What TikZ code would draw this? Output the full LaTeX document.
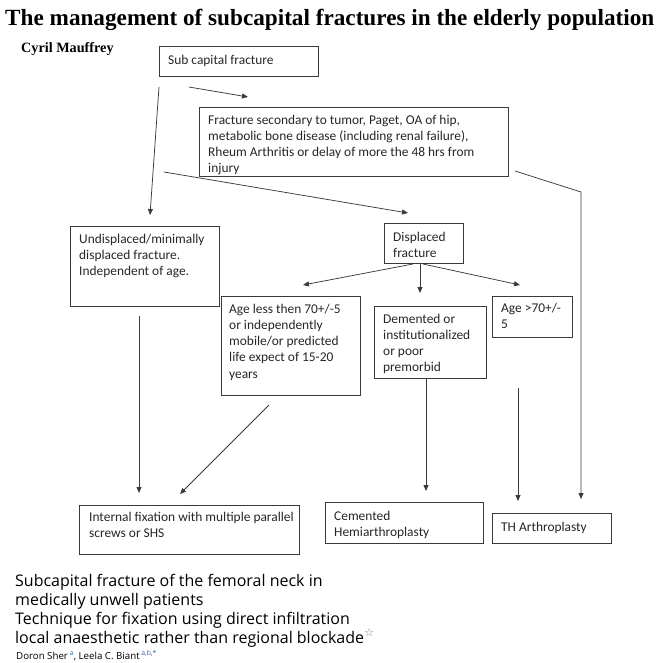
\documentclass[tikz,border=0pt]{standalone}
\usepackage{fontspec}
\setmainfont{Liberation Serif}
\newfontfamily\boxfont{Carlito}
\newfontfamily\botfont{Open Sans}
\newfontfamily\symfont{DejaVu Sans}
\usetikzlibrary{arrows.meta}
\definecolor{ln}{HTML}{3A3A3A}
\definecolor{supblue}{HTML}{2B5FA6}
\begin{document}
\begin{tikzpicture}[x=1pt,y=-1pt,
  boxst/.style={draw=ln,line width=0.8pt,anchor=north west,inner sep=0pt},
  txt/.style={anchor=north west,inner sep=0pt,align=left,text=black!85,font=\boxfont\fontsize{13.4}{16.3}\selectfont},
  conn/.style={draw=ln,line width=0.75pt,-{Triangle[length=6pt,width=5pt]}}
]
\useasboundingbox (0,0) rectangle (662,663);
% boxes: \bx{name}{x1}{y1}{x2}{y2}{textx}{first line centre}{text}
\newcommand{\bx}[8]{%
  \node[boxst,minimum width=#4-#2,minimum height=#5-#3] (#1) at (#2,#3) {};
  \node[txt] (#1t) at (#6,#7-7.6) {\strut #8};
}
\bx{b1}{159}{46}{318}{76}{168}{60}{Sub capital fracture}
\bx{b2}{199}{107}{508}{176}{208}{120}{Fracture secondary to tumor, Paget, OA of hip,\\metabolic bone disease (including renal failure),\\Rheum Arthritis or delay of more the 48 hrs from\\injury}
\bx{b3}{70}{226}{219}{306}{79}{239}{Undisplaced/minimally\\displaced fracture.\\Independent of age.}
\bx{b4}{384}{223}{463}{263}{393}{237}{Displaced\\fracture}
\bx{b5}{221}{296}{360}{395}{229}{309}{Age less then 70+/-5\\or independently\\mobile/or predicted\\life expect of 15-20\\years}
\bx{b6}{374}{306}{486}{378}{383}{319}{Demented or\\institutionalized\\or poor\\premorbid}
\bx{b7}{492}{296}{572}{337}{501}{308}{Age >70+/-\\5}
\bx{b8}{79}{505}{299}{554}{89}{517}{Internal fixation with multiple parallel\\screws or SHS}
\bx{b9}{325}{502}{483}{543}{334}{516}{Cemented\\Hemiarthroplasty}
\bx{b10}{492}{513}{611}{543}{501}{527}{TH Arthroplasty}
% titles
\node[anchor=base west,inner sep=0pt,font=\bfseries\fontsize{23.2}{26}\selectfont] (title) at (5,26) {The management of subcapital fractures in the elderly population};
\node[anchor=base west,inner sep=0pt,font=\bfseries\fontsize{14.2}{17}\selectfont] (author) at (21,53) {Cyril Mauffrey};
% bottom text
\node[anchor=north west,inner sep=0pt,align=left,font=\botfont\fontsize{16}{19}\selectfont] (ref) at (15,572.7) {\strut Subcapital fracture of the femoral neck in\\medically unwell patients\\Technique for fixation using direct infiltration\\local anaesthetic rather than regional blockade\textsuperscript{\symfont\color{gray}☆}};
\node[anchor=base west,inner sep=0pt,font=\botfont\fontsize{9.7}{11}\selectfont] (refauth) at (16,659) {Doron Sher\,\textsuperscript{\color{supblue}a}, Leela C. Biant\,\textsuperscript{\color{supblue}a,b,*}};
% connector coordinates
\coordinate (a1s) at (189,87); \coordinate (a1e) at (248,97);
\coordinate (a2s) at (159,87); \coordinate (a2e) at (150,215);
\coordinate (a3s) at (164,172); \coordinate (a3e) at (408,213);
\coordinate (a4s) at (515,171); \coordinate (a4m) at (581,192); \coordinate (a4e) at (581,499);
\coordinate (a5s) at (413,264); \coordinate (a5e) at (303,285);
\coordinate (a6s) at (420,264); \coordinate (a6e) at (420,293);
\coordinate (a7s) at (423,264); \coordinate (a7e) at (520,285);
\coordinate (a8s) at (139,316); \coordinate (a8e) at (139,493);
\coordinate (a9s) at (269,405); \coordinate (a9e) at (180,494);
\coordinate (a10s) at (426,378); \coordinate (a10e) at (426,491);
\coordinate (a11s) at (518,388); \coordinate (a11e) at (518,501);
\draw[conn] (a1s) -- (a1e);
\draw[conn] (a2s) -- (a2e);
\draw[conn] (a3s) -- (a3e);
\draw[conn] (a4s) -- (a4m) -- (a4e);
\draw[conn] (a5s) -- (a5e);
\draw[conn] (a6s) -- (a6e);
\draw[conn] (a7s) -- (a7e);
\draw[conn] (a8s) -- (a8e);
\draw[conn] (a9s) -- (a9e);
\draw[conn] (a10s) -- (a10e);
\draw[conn] (a11s) -- (a11e);
\end{tikzpicture}
\end{document}
